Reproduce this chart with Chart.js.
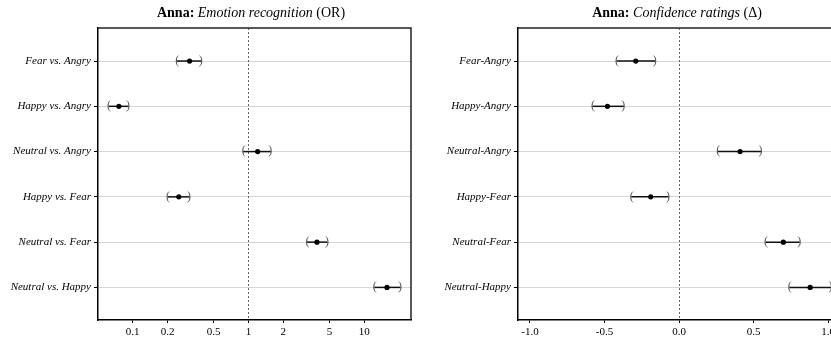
<!DOCTYPE html>
<html>
<head>
<meta charset="utf-8">
<script src="https://cdn.jsdelivr.net/npm/chart.js@4/dist/chart.umd.min.js"></script>
<style>
  html, body { margin: 0; padding: 0; background: #fff; overflow: hidden; width: 831px; height: 342px; }
  .panel { position: absolute; top: 0; }
  .title { position: absolute; top: 5px; font: 14px "Liberation Serif", serif; color: #000;
           white-space: nowrap; transform: translateX(-50%); }
</style>
</head>
<body>
<div class="panel" style="left:0"><canvas id="orChart" width="420" height="342"></canvas></div>
<div class="panel" style="left:420px"><canvas id="confChart" width="430" height="342"></canvas></div>
<div class="title" style="left:251px"><b>Anna:</b> <i>Emotion recognition</i> (OR)</div>
<div class="title" style="left:677px"><b>Anna:</b> <i>Confidence ratings</i> (&Delta;)</div>

<script>
// left panel: odds ratios (log scale)
const orLabels = ["Fear vs. Angry", "Happy vs. Angry", "Neutral vs. Angry", "Happy vs. Fear", "Neutral vs. Fear", "Neutral vs. Happy"];
const orEst  = [0.31, 0.076, 1.20, 0.25, 3.9, 15.7];
const orLow  = [0.24, 0.062, 0.90, 0.20, 3.2, 12.2];
const orHigh = [0.39, 0.092, 1.56, 0.31, 4.8, 20.5];
const orTicks = [0.1, 0.2, 0.5, 1, 2, 5, 10];

// right panel: confidence rating differences
const confLabels = ["Fear-Angry", "Happy-Angry", "Neutral-Angry", "Happy-Fear", "Neutral-Fear", "Neutral-Happy"];
const confEst  = [-0.29, -0.48, 0.41, -0.19, 0.70, 0.88];
const confLow  = [-0.42, -0.58, 0.26, -0.32, 0.58, 0.74];
const confHigh = [-0.16, -0.37, 0.55, -0.07, 0.81, 1.02];
const confTicks = [-1, -0.5, 0, 0.5, 1];

const SERIF = "'Liberation Serif', serif";

function forestPlugin(ref, low, high, boxRight) {
  return {
    id: "forest",
    beforeDatasetsDraw(chart) {
      const { ctx, chartArea: a, scales: { x, y } } = chart;
      ctx.save();
      // dashed reference line
      const rx = Math.round(x.getPixelForValue(ref)) + 0.5;
      ctx.strokeStyle = "#666";
      ctx.lineWidth = 1;
      ctx.setLineDash([2, 2]);
      ctx.beginPath(); ctx.moveTo(rx, a.top); ctx.lineTo(rx, a.bottom); ctx.stroke();
      ctx.setLineDash([]);
      // confidence intervals with bracket ends
      ctx.font = "12px " + SERIF;
      ctx.textAlign = "center";
      ctx.textBaseline = "middle";
      low.forEach((lo, i) => {
        const py = y.getPixelForValue(i + 1);
        const x0 = x.getPixelForValue(lo), x1 = x.getPixelForValue(high[i]);
        ctx.strokeStyle = "#111";
        ctx.lineWidth = 1.5;
        ctx.beginPath(); ctx.moveTo(x0, py); ctx.lineTo(x1, py); ctx.stroke();
        ctx.fillStyle = "#555";
        ctx.fillText("(", x0 + 0.5, py - 0.5);
        ctx.fillText(")", x1 - 0.5, py - 0.5);
      });
      ctx.restore();
    },
    afterDraw(chart) {
      const { ctx, chartArea: a } = chart;
      ctx.save();
      ctx.strokeStyle = "#222";
      ctx.lineWidth = 1.5;
      ctx.beginPath();
      ctx.moveTo(a.left, a.top); ctx.lineTo(a.right, a.top);
      if (boxRight) ctx.lineTo(a.right, a.bottom);
      ctx.stroke();
      ctx.restore();
    }
  };
}

function makeChart(el, cfg) {
  const yScale = {
    type: "linear",
    reverse: true,
    bounds: "data",
    min: 0.27,
    max: 6.72,
    afterBuildTicks: s => { s.ticks = cfg.labels.map((_, i) => ({ value: i + 1 })); },
    afterFit: s => { s.width = 98; },
    ticks: {
      autoSkip: false,
      padding: 3,
      color: "#000",
      font: { family: SERIF, size: 11, style: "italic" },
      callback: v => cfg.labels[v - 1]
    },
    grid: { color: "#d6d6d6", lineWidth: 1, tickColor: "#000", tickLength: 4, drawTicks: true },
    border: { color: "#000", width: 1.5 }
  };
  const xScale = Object.assign({
    bounds: "data",
    min: cfg.min,
    max: cfg.max,
    afterBuildTicks: s => { s.ticks = cfg.ticks.map(v => ({ value: v })); },
    afterFit: s => { s.height = 22; },
    ticks: {
      autoSkip: false,
      maxRotation: 0,
      padding: 3,
      color: "#000",
      font: { family: SERIF, size: 11 },
      callback: cfg.fmt
    },
    grid: { drawOnChartArea: false, drawTicks: true, tickLength: 3, tickColor: "#000" },
    border: { color: "#000", width: 1.5 }
  }, { type: cfg.type });

  return new Chart(el, {
    type: "scatter",
    data: {
      datasets: [{
        data: cfg.est.map((v, i) => ({ x: v, y: i + 1 })),
        pointRadius: 2.6,
        pointBackgroundColor: "#000",
        pointBorderWidth: 0
      }]
    },
    options: {
      responsive: false,
      animation: false,
      layout: { padding: { top: 28, right: cfg.padRight, left: 0, bottom: 0 } },
      plugins: { legend: { display: false }, tooltip: { enabled: false } },
      scales: { x: xScale, y: yScale }
    },
    plugins: [forestPlugin(cfg.ref, cfg.low, cfg.high, cfg.boxRight)]
  });
}

makeChart(document.getElementById("orChart"), {
  labels: orLabels, est: orEst, low: orLow, high: orHigh, ticks: orTicks,
  type: "logarithmic", min: 0.0502, max: 25.3, ref: 1, padRight: 9, boxRight: true,
  fmt: v => String(v)
});

makeChart(document.getElementById("confChart"), {
  labels: confLabels, est: confEst, low: confLow, high: confHigh, ticks: confTicks,
  type: "linear", min: -1.08, max: 1.08, ref: 0, padRight: 10, boxRight: false,
  fmt: v => v.toFixed(1)
});
</script>
</body>
</html>
